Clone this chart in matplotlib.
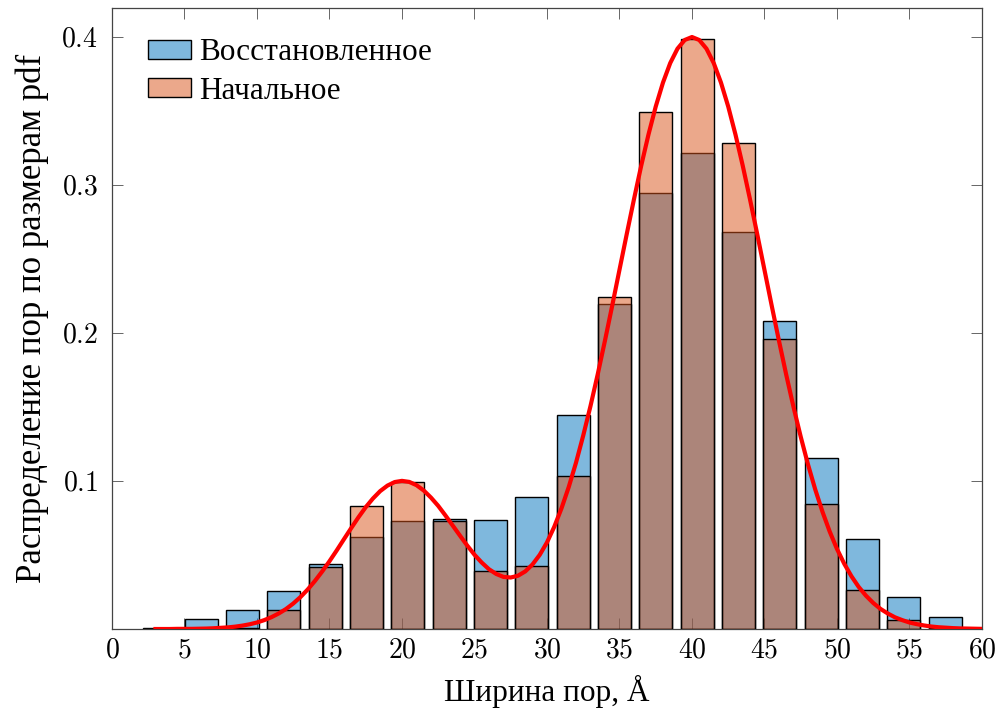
import matplotlib
matplotlib.use("Agg")
import matplotlib.pyplot as plt
from matplotlib.patches import Patch

plt.rcParams['font.family'] = ['Liberation Serif', 'DejaVu Serif']
plt.rcParams['mathtext.fontset'] = 'cm'

# bin centres of the histogram, Å
bin_centers = [3.31, 6.16, 9.01, 11.86, 14.71, 17.56, 20.41, 23.26, 26.11, 28.96,
               31.81, 34.66, 37.51, 40.36, 43.21, 46.06, 48.91, 51.76, 54.61, 57.46]
restored = [0.0005, 0.0066, 0.0126, 0.0257, 0.0439, 0.0620, 0.0732, 0.0741, 0.0734, 0.0894,
            0.1444, 0.2194, 0.2948, 0.3218, 0.2685, 0.2079, 0.1158, 0.0606, 0.0216, 0.0083]
initial = [0.0, 0.0003, 0.0010, 0.0126, 0.0417, 0.0829, 0.0991, 0.0728, 0.0394, 0.0428,
           0.1034, 0.2241, 0.3495, 0.3984, 0.3282, 0.1957, 0.0845, 0.0261, 0.0059, 0.0005]

# red reference curve, every 0.5 Å from 3 to 60
curve_x = [3 + 0.5 * i for i in range(115)]
curve_y = [0.0000, 0.0000, 0.0000, 0.0001, 0.0001, 0.0001, 0.0002, 0.0003, 0.0005, 0.0008,
           0.0011, 0.0016, 0.0023, 0.0032, 0.0044, 0.0060, 0.0080, 0.0105, 0.0135, 0.0172,
           0.0216, 0.0267, 0.0325, 0.0389, 0.0458, 0.0531, 0.0607, 0.0682, 0.0755, 0.0823,
           0.0882, 0.0932, 0.0969, 0.0993, 0.1001, 0.0994, 0.0972, 0.0936, 0.0888, 0.0832,
           0.0767, 0.0699, 0.0631, 0.0564, 0.0502, 0.0449, 0.0404, 0.0372, 0.0352, 0.0348,
           0.0360, 0.0389, 0.0436, 0.0501, 0.0585, 0.0690, 0.0815, 0.0959, 0.1123, 0.1307,
           0.1506, 0.1721, 0.1949, 0.2185, 0.2427, 0.2668, 0.2904, 0.3131, 0.3341, 0.3530,
           0.3692, 0.3824, 0.3921, 0.3980, 0.4000, 0.3980, 0.3921, 0.3824, 0.3692, 0.3530,
           0.3341, 0.3131, 0.2904, 0.2668, 0.2426, 0.2184, 0.1947, 0.1718, 0.1501, 0.1299,
           0.1112, 0.0943, 0.0792, 0.0658, 0.0541, 0.0441, 0.0356, 0.0284, 0.0225, 0.0176,
           0.0136, 0.0105, 0.0079, 0.0060, 0.0044, 0.0033, 0.0024, 0.0017, 0.0012, 0.0009,
           0.0006, 0.0004, 0.0003, 0.0002, 0.0001]

xticks = list(range(0, 61, 5))
xtick_labels = [f"${t}$" for t in xticks]
yticks = [0.1, 0.2, 0.3, 0.4]
ytick_labels = ["$0.1$", "$0.2$", "$0.3$", "$0.4$"]

blue = (0 / 255, 114 / 255, 189 / 255, 0.5)
orange = (217 / 255, 83 / 255, 25 / 255, 0.5)

fig = plt.figure(figsize=(10.05, 7.22), dpi=100)
ax = fig.add_axes([0.1114, 0.1288, 0.8657, 0.8601])

ax.bar(bin_centers, restored, width=2.28, color=blue, edgecolor="black", linewidth=1.0, zorder=2)
ax.bar(bin_centers, initial, width=2.28, color=orange, edgecolor="black", linewidth=1.0, zorder=3)
ax.plot(curve_x, curve_y, color="red", linewidth=3.0, zorder=4, solid_joinstyle="round")

ax.set_xlim(0, 60)
ax.set_ylim(0, 0.4196)
ax.set_xticks(xticks, xtick_labels)
ax.set_yticks(yticks, ytick_labels)
ax.tick_params(direction="in", top=True, right=True, length=8, width=0.7,
               color="#666666", labelsize=20)
ax.tick_params(axis="x", pad=7)
ax.tick_params(axis="y", pad=10)
for s in ax.spines.values():
    s.set_linewidth(0.9)
    s.set_color("#444444")

ax.set_xlabel("Ширина пор, Å", fontsize=22.5, labelpad=8)
ax.set_ylabel("Распределение пор по размерам pdf", fontsize=25, labelpad=9)

handles = [Patch(facecolor=blue, edgecolor="black", linewidth=1.0),
           Patch(facecolor=orange, edgecolor="black", linewidth=1.0)]
ax.legend(handles, ["Восстановленное", "Начальное"], loc="upper left",
          bbox_to_anchor=(0.0414, 0.951), frameon=False, fontsize=22.5,
          borderpad=0, borderaxespad=0,
          handlelength=1.38, handleheight=0.56, handletextpad=0.26, labelspacing=0.29)

fig.savefig("out.png", dpi=100)
